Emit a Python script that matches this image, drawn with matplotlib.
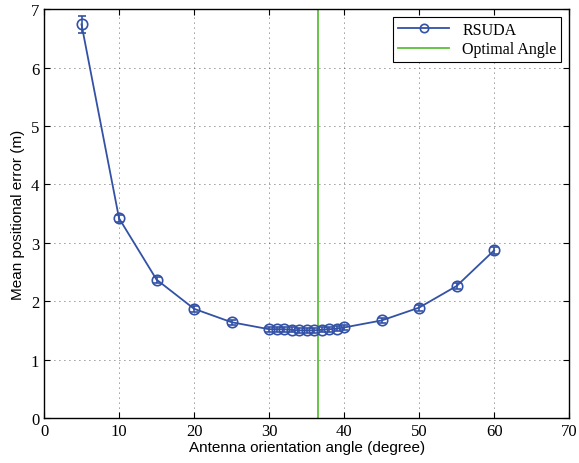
import numpy as np
from matplotlib import pyplot as plt
from matplotlib.lines import Line2D

angle = np.array([5, 10, 15, 20, 25, 30, 31, 32, 33, 34, 35, 36, 37, 38, 39, 40, 45, 50, 55, 60])
err_mean = np.array([6.74, 3.42, 2.37, 1.87, 1.64, 1.52, 1.52, 1.52, 1.51, 1.50, 1.50, 1.50,
                     1.51, 1.52, 1.53, 1.55, 1.67, 1.89, 2.26, 2.87])
err_std = np.array([0.15, 0.06, 0.05, 0.05, 0.04, 0.04, 0.04, 0.04, 0.04, 0.04, 0.04, 0.04,
                    0.04, 0.04, 0.04, 0.04, 0.04, 0.05, 0.05, 0.06])
optimal_angle = 36.5

blue = '#3352a6'
green = '#5cbf3a'

fig = plt.figure(figsize=(5.79, 4.64), dpi=100)
ax = fig.add_axes([0.076, 0.097, 0.907, 0.881])

ax.errorbar(angle, err_mean, yerr=err_std, color=blue, lw=1.3, marker='o',
            markersize=7.5, markerfacecolor='none', markeredgewidth=1.2,
            capsize=3, elinewidth=1.2)
ax.axvline(optimal_angle, color=green, lw=1.3)

ax.set_xlim(0, 70)
ax.set_ylim(0, 7)
ax.set_xticks(np.arange(0, 71, 10))
ax.set_yticks(np.arange(0, 8, 1))
ax.grid(True, color='#333333', linestyle=(0, (1, 5)), lw=0.6)
ax.tick_params(direction='in', top=True, right=True, length=4, labelsize=12)
for lab in ax.get_xticklabels() + ax.get_yticklabels():
    lab.set_family('Liberation Serif')
for s in ax.spines.values():
    s.set_linewidth(1.0)

ax.set_xlabel('Antenna orientation angle (degree)', family='Liberation Sans', fontsize=11, labelpad=1)
ax.set_ylabel('Mean positional error (m)', family='Liberation Sans', fontsize=11, labelpad=4)

handles = [Line2D([], [], color=blue, lw=1.3, marker='o', markersize=6,
                  markerfacecolor='none', markeredgewidth=1.2),
           Line2D([], [], color=green, lw=1.3)]
leg = ax.legend(handles, ['RSUDA', 'Optimal Angle'], loc='upper right',
                prop={'family': 'Liberation Serif', 'size': 11.5},
                fancybox=False, edgecolor='black', framealpha=1, handlelength=3.2,
                borderpad=0.3, labelspacing=0.2)
leg.get_frame().set_linewidth(0.8)

fig.savefig('out.png', dpi=100)
